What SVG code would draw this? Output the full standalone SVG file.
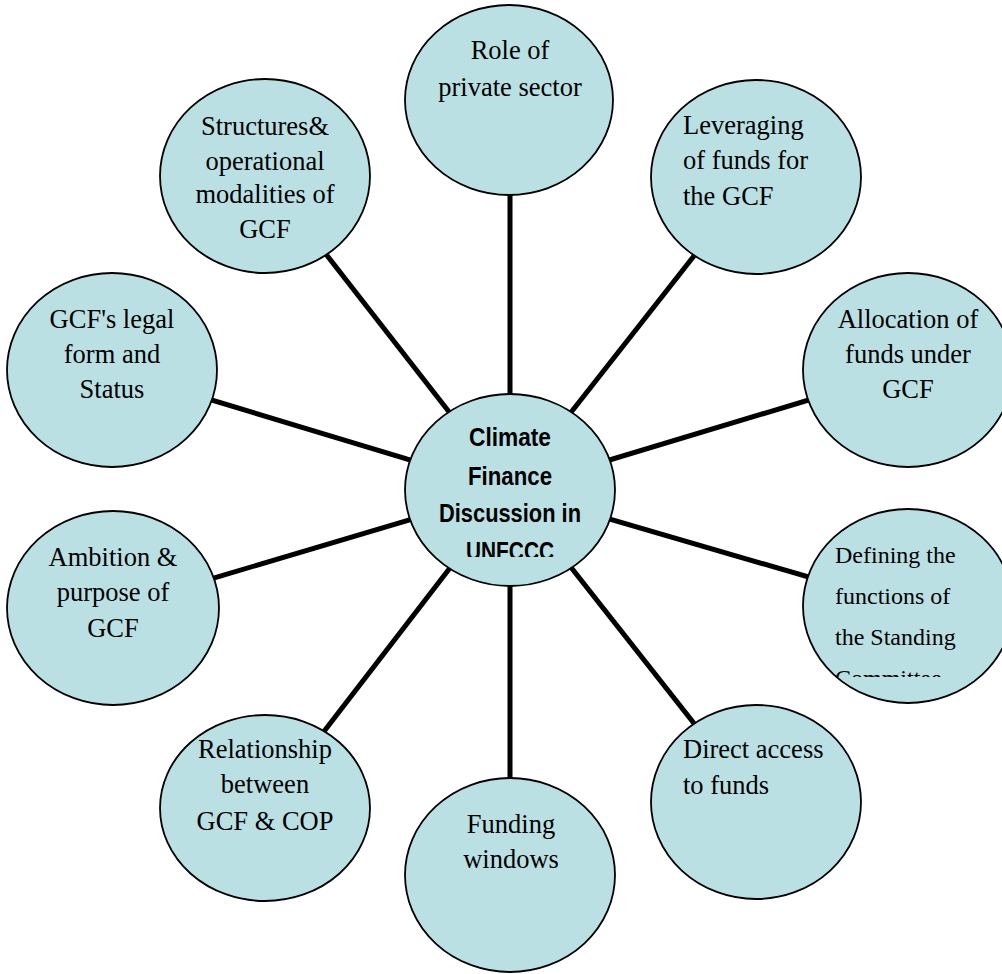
<svg xmlns="http://www.w3.org/2000/svg" width="1002" height="974" viewBox="0 0 1002 974">
  <style>
    .node ellipse { fill: #BAE0E4; stroke: #000; stroke-width: 1.8; }
    .lbl { font-family: "Liberation Serif", "Times New Roman", serif; font-size: 26.5px; fill: #000; }
    .mid { text-anchor: middle; }
    .small { font-size: 24px; }
    .center { font-family: "Liberation Sans", Arial, sans-serif; font-weight: bold; font-size: 26px; fill: #000; text-anchor: middle; }
    #connectors line { stroke: #000; stroke-width: 5; }
  </style>
  <defs>
    <clipPath id="clipCenter"><rect x="400" y="380" width="220" height="177"/></clipPath>
    <clipPath id="clipDef"><rect x="800" y="500" width="202" height="177"/></clipPath>
  </defs>
  <rect width="1002" height="974" fill="#fff"/>
  <g id="connectors">
    <line x1="510" y1="490" x2="510" y2="100"/>
    <line x1="510" y1="490" x2="756" y2="177"/>
    <line x1="510" y1="490" x2="908" y2="370"/>
    <line x1="510" y1="490" x2="908" y2="606"/>
    <line x1="510" y1="490" x2="756" y2="802"/>
    <line x1="510" y1="490" x2="510" y2="875"/>
    <line x1="510" y1="490" x2="265" y2="808"/>
    <line x1="510" y1="490" x2="113" y2="608"/>
    <line x1="510" y1="490" x2="112" y2="370"/>
    <line x1="510" y1="490" x2="265" y2="176"/>
  </g>
  <g id="node-role" class="node">
    <ellipse cx="509" cy="100" rx="104" ry="95"/>
    <text class="lbl mid" x="510" y="59">Role of</text>
    <text class="lbl mid" x="510" y="96">private sector</text>
  </g>
  <g id="node-leveraging" class="node">
    <ellipse cx="756" cy="177" rx="105" ry="97"/>
    <text class="lbl" x="683" y="134">Leveraging</text>
    <text class="lbl" x="683" y="169">of funds for</text>
    <text class="lbl" x="683" y="205">the GCF</text>
  </g>
  <g id="node-allocation" class="node">
    <ellipse cx="908" cy="370" rx="105" ry="97"/>
    <text class="lbl mid" x="908" y="328">Allocation of</text>
    <text class="lbl mid" x="908" y="363">funds under</text>
    <text class="lbl mid" x="908" y="398">GCF</text>
  </g>
  <g id="node-defining" class="node">
    <ellipse cx="908" cy="606" rx="105" ry="97"/>
    <g clip-path="url(#clipDef)">
      <text class="lbl small" x="835" y="563">Defining the</text>
      <text class="lbl small" x="835" y="604">functions of</text>
      <text class="lbl small" x="835" y="645">the Standing</text>
      <text class="lbl small" x="835" y="686">Committee</text>
    </g>
  </g>
  <g id="node-direct" class="node">
    <ellipse cx="756" cy="802" rx="105" ry="97"/>
    <text class="lbl" x="683" y="758">Direct access</text>
    <text class="lbl" x="683" y="794">to funds</text>
  </g>
  <g id="node-funding" class="node">
    <ellipse cx="510" cy="875" rx="105" ry="97"/>
    <text class="lbl mid" x="511" y="833">Funding</text>
    <text class="lbl mid" x="511" y="868">windows</text>
  </g>
  <g id="node-relationship" class="node">
    <ellipse cx="265" cy="808" rx="105" ry="93"/>
    <text class="lbl mid" x="265" y="758">Relationship</text>
    <text class="lbl mid" x="265" y="793">between</text>
    <text class="lbl mid" x="265" y="830">GCF &amp; COP</text>
  </g>
  <g id="node-ambition" class="node">
    <ellipse cx="113" cy="608" rx="106" ry="97"/>
    <text class="lbl mid" x="113" y="566">Ambition &amp;</text>
    <text class="lbl mid" x="113" y="601">purpose of</text>
    <text class="lbl mid" x="113" y="637">GCF</text>
  </g>
  <g id="node-legal" class="node">
    <ellipse cx="112" cy="370" rx="105" ry="97"/>
    <text class="lbl mid" x="112" y="328">GCF's legal</text>
    <text class="lbl mid" x="112" y="363">form and</text>
    <text class="lbl mid" x="112" y="398">Status</text>
  </g>
  <g id="node-structures" class="node">
    <ellipse cx="265" cy="176" rx="105" ry="97"/>
    <text class="lbl mid" x="265" y="135">Structures&amp;</text>
    <text class="lbl mid" x="265" y="170">operational</text>
    <text class="lbl mid" x="265" y="203">modalities of</text>
    <text class="lbl mid" x="265" y="238">GCF</text>
  </g>
  <g id="node-center" class="node">
    <ellipse cx="510" cy="490" rx="105" ry="96"/>
    <g clip-path="url(#clipCenter)">
      <text class="center" x="510" y="446" textLength="82" lengthAdjust="spacingAndGlyphs">Climate</text>
      <text class="center" x="510" y="485" textLength="84" lengthAdjust="spacingAndGlyphs">Finance</text>
      <text class="center" x="510" y="522" textLength="142" lengthAdjust="spacingAndGlyphs">Discussion in</text>
      <text class="center" x="510" y="560" textLength="88" lengthAdjust="spacingAndGlyphs">UNFCCC</text>
    </g>
  </g>
</svg>
